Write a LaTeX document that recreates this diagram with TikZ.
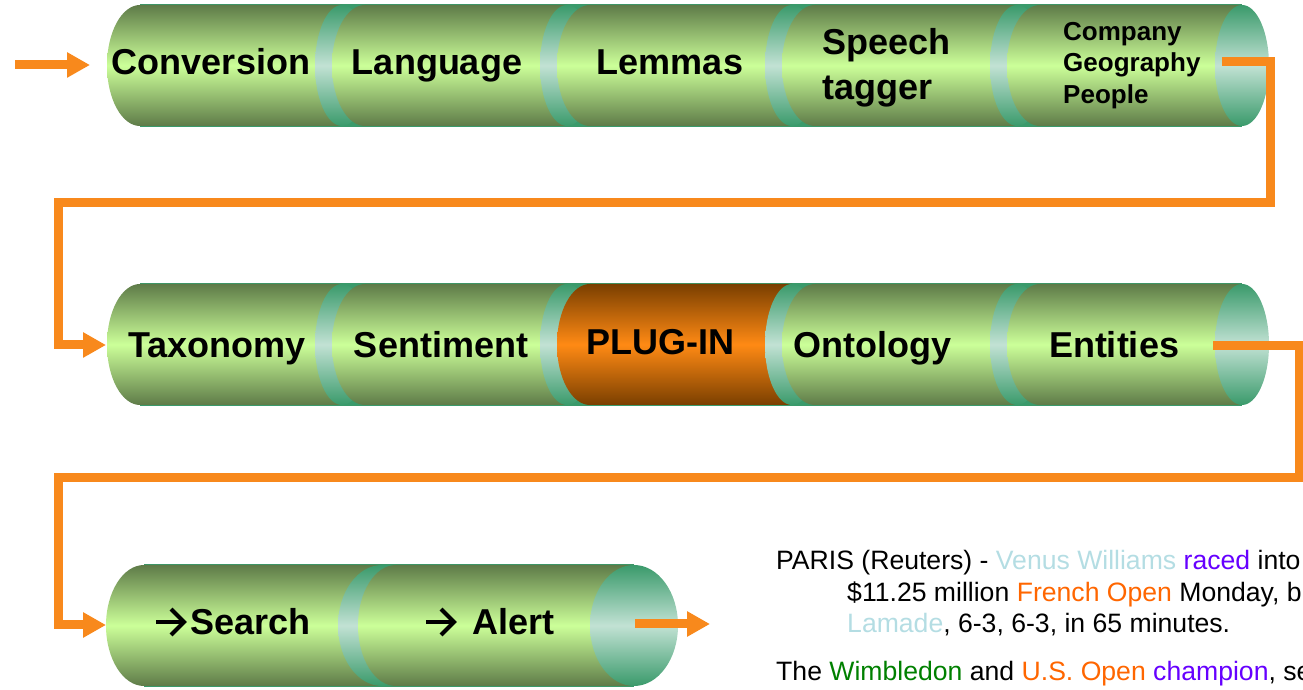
\documentclass[tikz,border=0pt]{standalone}
\usepackage{fontspec}
\setmainfont{Liberation Sans}
\usetikzlibrary{arrows.meta}
\definecolor{bodyDark}{HTML}{5E7B48}
\definecolor{bodyLight}{HTML}{CCFF99}
\definecolor{capDark}{HTML}{3A9A6B}
\definecolor{capLight}{HTML}{C2E2D4}
\definecolor{plugDark}{HTML}{7A3F00}
\definecolor{plugLight}{HTML}{FF8A14}
\definecolor{flow}{HTML}{F8891C}
\definecolor{entBlue}{HTML}{B4DDE3}
\definecolor{entPurple}{HTML}{6600FF}
\definecolor{entOrange}{HTML}{FF6600}
\definecolor{entGreen}{HTML}{008000}
\tikzset{
  greenbody/.style={top color=bodyDark, bottom color=bodyDark, middle color=bodyLight},
  plugbody/.style={top color=plugDark, bottom color=plugDark, middle color=plugLight},
  capfill/.style={top color=capDark, bottom color=capDark, middle color=capLight},
  backfill/.style={fill=capDark},
  biglabel/.style={font=\fontsize{36}{45}\selectfont\bfseries, anchor=base, inner sep=0pt},
  smalllabel/.style={font=\fontsize{26}{31.5}\selectfont\bfseries, anchor=base west, inner sep=0pt, align=left},
  newsline/.style={font=\fontsize{26.6}{31.5}\selectfont, anchor=base west, inner sep=0pt},
  flowline/.style={draw=flow, line width=9pt, -{Triangle[length=23pt,width=24pt]}},
  glypharrow/.style={draw=black, line width=4pt, line cap=butt, line join=miter}
}
% xl, xr, center, left x radius, y radius, style
\newcommand{\CylBody}[6]{%
  \path[#6] (#2,#3+#5) -- (#1,#3+#5) arc[start angle=90, end angle=270, x radius=#4, y radius=#5] -- (#2,#3-#5) -- cycle;}
% xr, center, cap x radius, y radius
\newcommand{\CylCap}[4]{%
  \path[capfill] (#1,#2) ellipse[x radius=#3, y radius=#4];}
% chevron arrow glyph: left x, mid y
\newcommand{\GlyphArrow}[2]{%
  \path[glypharrow] (#1,#2) -- (#1+28,#2);
  \path[glypharrow] (#1+15,#2+13) -- (#1+28,#2) -- (#1+15,#2-13);}
\begin{document}
\begin{tikzpicture}[x=1pt,y=1pt]
\useasboundingbox (0,0) rectangle (1303,690);
\clip (0,0) rectangle (1303,690);

% ---------- Row 1 ----------
\path[backfill] (140,563) rectangle (1242,686);
\foreach \k in {0,...,4}{
  \pgfmathsetmacro{\xl}{140+225*\k}
  \pgfmathsetmacro{\xr}{342+225*\k}
  \CylBody{\xl}{\xr}{624.5}{33}{60.5}{greenbody}
  \CylCap{\xr}{624.5}{27}{60.5}
}

% ---------- Row 2 ----------
\path[backfill] (140,284) rectangle (1242,407);
\foreach \k in {0,...,4}{
  \pgfmathsetmacro{\xl}{140+225*\k}
  \pgfmathsetmacro{\xr}{342+225*\k}
  \ifnum\k=2
    \CylBody{\xl}{\xr}{345.5}{33}{60.5}{plugbody}
  \else
    \CylBody{\xl}{\xr}{345.5}{33}{60.5}{greenbody}
  \fi
  \CylCap{\xr}{345.5}{27}{60.5}
}

% ---------- Row 3 ----------
\path[backfill] (144,3) rectangle (634,126);
\CylBody{144}{382}{64.5}{38}{60.5}{greenbody}
\CylCap{382}{64.5}{44}{60.5}
\CylBody{396}{634}{64.5}{38}{60.5}{greenbody}
\CylCap{634}{64.5}{44}{60.5}

% ---------- Labels ----------
\node[biglabel] (conv) at (211,615) {Conversion};
\node[biglabel] (lang) at (437,615) {Language};
\node[biglabel] (lemm) at (670,615) {Lemmas};
\node[biglabel, anchor=base west, align=left] (spch) at (822,590) {Speech\\tagger};
\node[smalllabel] (cgp) at (1063,586.5) {Company\\Geography\\People};

\node[biglabel] (taxo) at (217,332) {Taxonomy};
\node[biglabel] (sent) at (441,332) {Sentiment};
\node[biglabel] (plug) at (660,335) {PLUG-IN};
\node[biglabel] (onto) at (872,332) {Ontology};
\node[biglabel] (enti) at (1114,332) {Entities};

\GlyphArrow{156}{68}
\node[biglabel, anchor=base west] (srch) at (190,55) {Search};
\GlyphArrow{426}{68}
\node[biglabel, anchor=base west] (alrt) at (472,55) {Alert};

% ---------- News text ----------
\node[newsline] (p1) at (776,120) {PARIS (Reuters) - \textcolor{entBlue}{Venus Williams} \textcolor{entPurple}{raced} into};
\node[newsline] (p2) at (847,88.5) {\$11.25 million \textcolor{entOrange}{French Open} Monday, b};
\node[newsline] (p3) at (847,57) {\textcolor{entBlue}{Lamade}, 6-3, 6-3, in 65 minutes.};
\node[newsline] (p4) at (776,9.5) {The \textcolor{entGreen}{Wimbledon} and \textcolor{entOrange}{U.S. Open} \textcolor{entPurple}{champion}, se};

% ---------- Connectors ----------
\coordinate (inS) at (15,625);
\coordinate (row1in) at (90,625);
\coordinate (row1out) at (1222,628);
\coordinate (row2in) at (106,345);
\coordinate (row2out) at (1213,344);
\coordinate (row3in) at (106,65);
\coordinate (row3out) at (635,66);
\coordinate (outE) at (710,66);

\draw[flowline] (inS) -- (row1in);
\draw[flowline] (row1out) -- (1270,628) -- (1270,487.5) -- (58,487.5) -- (58,345) -- (row2in);
\draw[flowline] (row2out) -- (1299.5,344) -- (1299.5,212) -- (58,212) -- (58,65) -- (row3in);
\draw[flowline] (row3out) -- (outE);
\end{tikzpicture}
\end{document}
